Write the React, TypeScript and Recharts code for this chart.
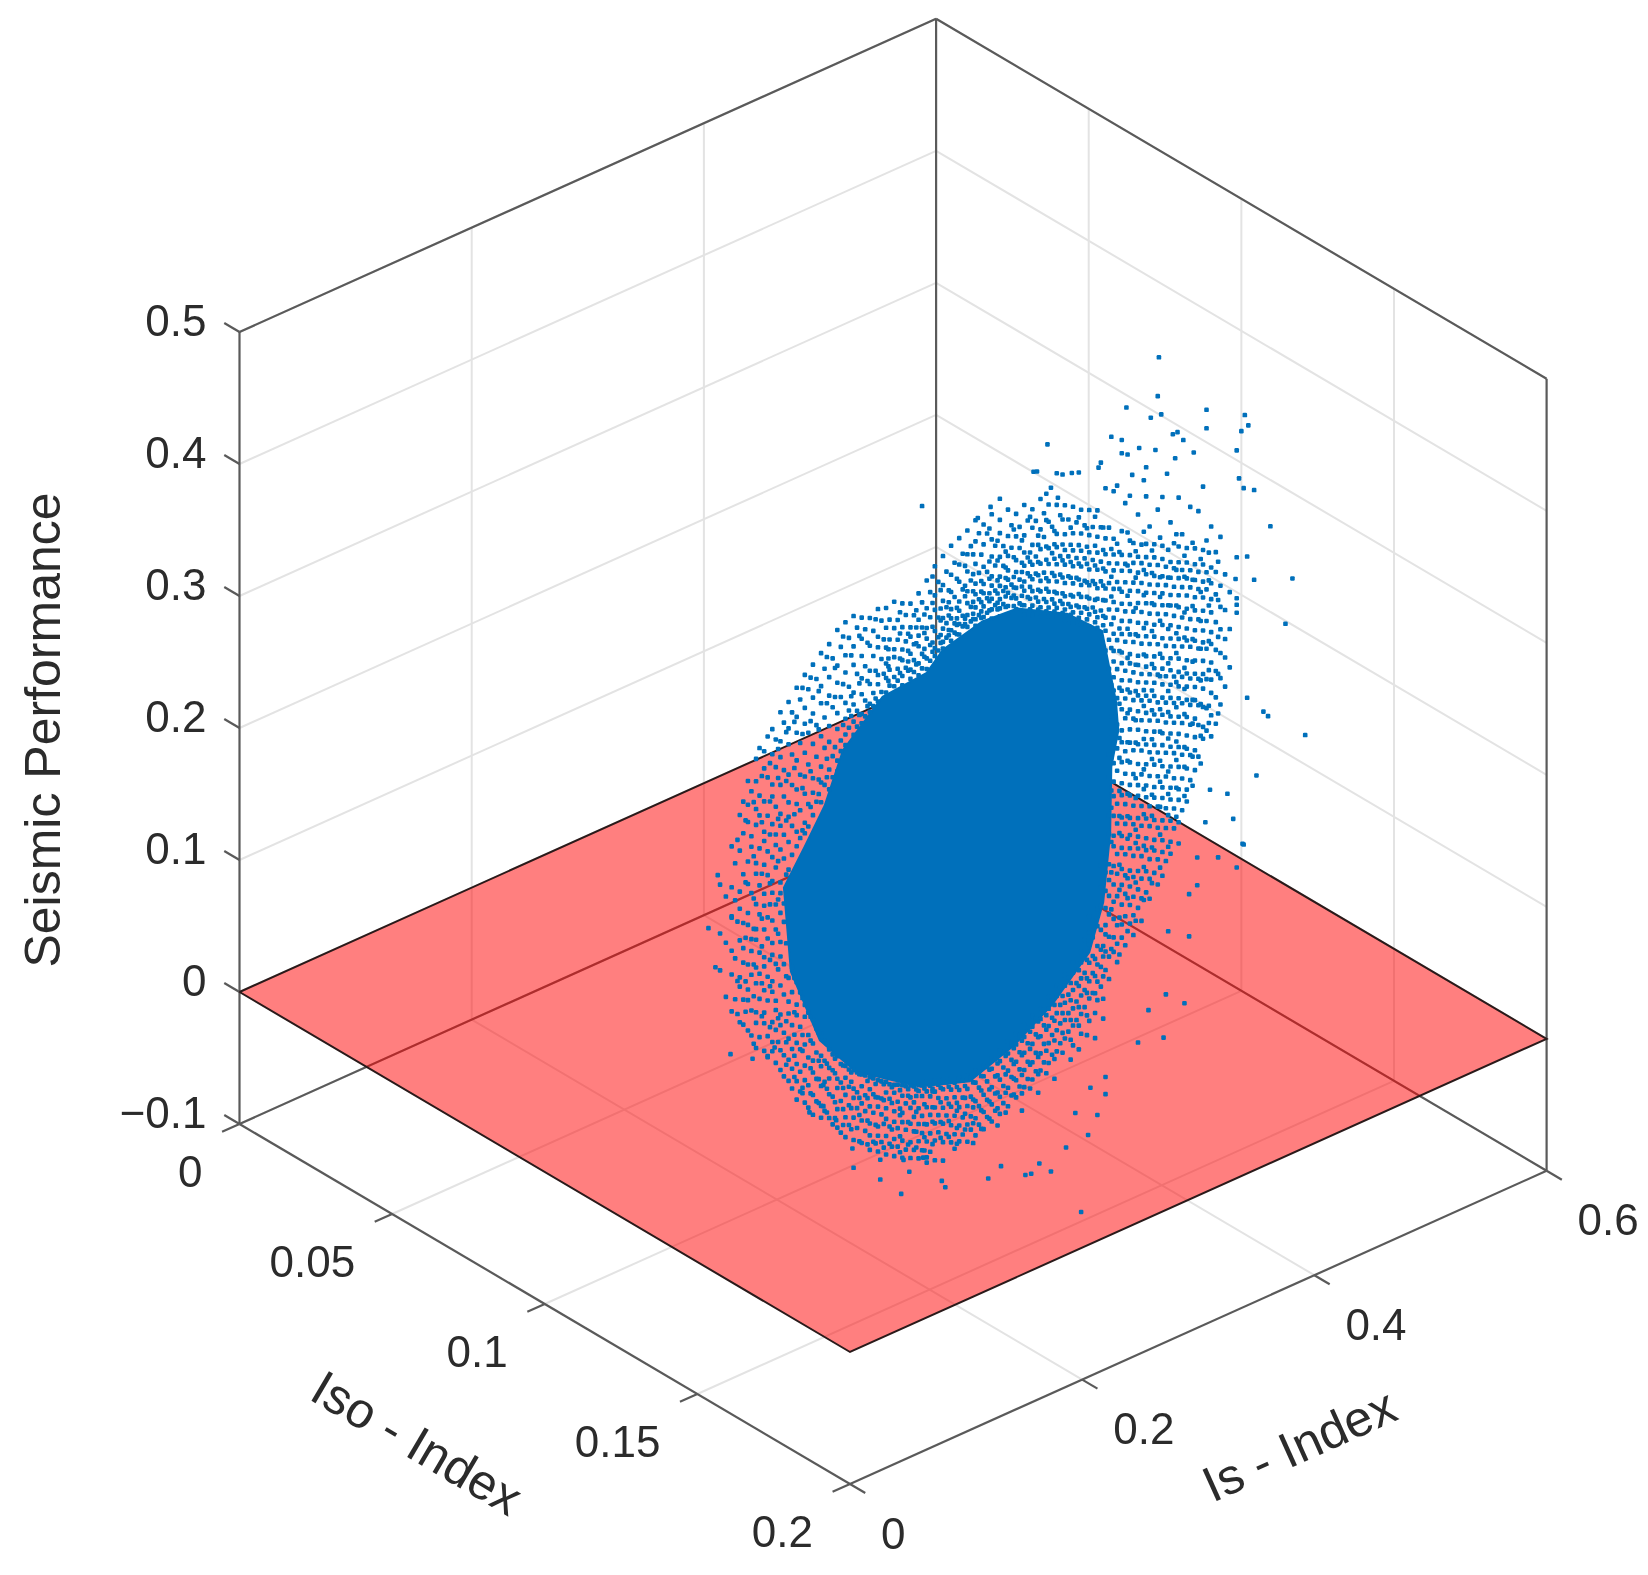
import { Scatter, ScatterChart, XAxis, YAxis } from "recharts";

const isTicks = [0, 0.2, 0.4, 0.6];
const isoTicks = [0, 0.05, 0.1, 0.15, 0.2];
const spTicks = [-0.1, 0, 0.1, 0.2, 0.3, 0.4, 0.5];
const isGrid = [0.2, 0.4];
const isoGrid = [0.05, 0.1, 0.15];

// the picture is a flat view, so every dot is read as (Is, performance) at Iso = 0.1
const cloudIso = 0.1;

// outline of the part where the dots merge into a solid patch
const coreIs = [0.257, 0.291, 0.329, 0.343, 0.377, 0.407, 0.45, 0.48, 0.492, 0.494, 0.488, 0.487, 0.481, 0.469, 0.437, 0.404, 0.366, 0.323, 0.268, 0.237, 0.212, 0.206, 0.224, 0.241, 0.257];
const coreSp = [0.218, 0.245, 0.248, 0.26, 0.268, 0.266, 0.245, 0.22, 0.162, 0.139, 0.114, 0.064, 0.014, -0.019, -0.046, -0.064, -0.076, -0.063, -0.03, 0.006, 0.068, 0.134, 0.158, 0.182, 0.218];

const strayPoints: [number, number][] = [
  [.529,.408],[.528,.379],[.501,.381],[.57,.352],[.603,.335],[.606,.326],[.6,.324],[.57,.338],[.522,.365],[.531,.364],
  [.545,.345],[.541,.345],[.55,.337],[.488,.364],[.497,.358],[.512,.346],[.497,.348],[.502,.345],[.526,.339],[.543,.326],
  [.559,.324],[.596,.311],[.479,.348],[.477,.345],[.433,.38],[.518,.329],[.536,.317],[.506,.328],[.516,.32],[.598,.289],
  [.602,.28],[.611,.275],[.567,.295],[.493,.325],[.421,.364],[.424,.363],[.441,.355],[.446,.352],[.454,.35],[.46,.348],
  [.436,.346],[.432,.343],[.442,.336],[.325,.376],[.392,.355],[.384,.352],[.373,.348],[.625,.242],[.644,.195],[.611,.207],
  [.595,.214],[.638,.163],[.655,.072],[.623,.099],[.619,.104],[.605,.12],[.605,.227],[.596,.23],[.596,.194],[.596,.199],
  [.596,.188],[.613,.058],[.601,.011],
  [.149,.166],[.141,.129],[.147,.097],[.161,.13],[.16,.026],[.179,.015],[.192,.012],[.198,.016],[.222,-.028],[.24,-.029],
  [.228,-.045],[.24,-.045],[.251,-.06],[.265,-.087],[.266,-.102],[.289,-.105],[.289,-.12],[.307,-.138],[.309,-.113],[.314,-.124],
  [.326,-.118],[.329,-.123],[.342,-.142],[.345,-.148],[.382,-.156],[.393,-.151],[.414,-.166],[.419,-.167],[.426,-.162],[.436,-.172],
  [.462,-.213],[.449,-.159],[.468,-.157],[.476,-.145],[.457,-.136],[.483,-.132],[.483,-.119],[.47,-.122],[.533,-.109],[.511,-.104],
  [.551,-.09],[.52,-.083],[.535,-.077],[.555,-.041],[.537,-.03],[.562,-.005],[.555,-.009],[.562,.016],[.58,.009],[.596,-.005],
  [.602,.01],[.593,.033],[.588,.054],[.573,.063],[.569,.04],
];

const leftColumns: [number, number[]][] = [
  [.151,[.158,.121,.093]],
  [.156,[.147,.112,.071]],
  [.161,[.183,.152,.129,.104,.086,.058]],
  [.164,[.169,.141,.097,.066]],
  [.168,[.204,.177,.146,.133,.109,.081,.074,.047]],
  [.171,[.213,.189,.158,.121,.102,.091,.063,.044]],
  [.175,[.227,.209,.196,.166,.149,.127,.118,.088,.069,.061,.038]],
  [.178,[.218,.184,.176,.141,.106,.097,.079,.052,.033]],
  [.182,[.241,.224,.203,.191,.162,.154,.131,.112,.104,.083,.071,.049,.041,.022]],
  [.185,[.248,.212,.197,.172,.144,.122,.093,.077,.058,.029]],
  [.189,[.244,.231,.206,.183,.176,.158,.136,.127,.109,.088,.081,.063,.046,.038,.017]],
  [.192,[.254,.223,.194,.167,.149,.117,.101,.072,.054,.027,.011]],
  [.196,[.258,.239,.216,.207,.186,.161,.143,.134,.113,.096,.087,.067,.059,.036,.021,.014]],
  [.199,[.249,.228,.198,.177,.169,.152,.124,.105,.079,.051,.044,.029,.004]],
  [.203,[.268,.246,.234,.213,.191,.182,.164,.139,.131,.116,.094,.083,.061,.039,.031,.012,-.003]],
  [.206,[.259,.223,.203,.174,.156,.122,.108,.076,.053,.024,.007,-.009]],
  [.210,[.273,.253,.241,.218,.197,.186,.167,.146,.064,.046,.037,.018,.002,-.014]],
  [.213,[.264,.232,.209,.178,.156,.071,.052,.027,.009,-.006,-.021]],
  [.217,[.281,.259,.247,.226,.204,.193,.172,.161,.058,.041,.033,.012,-.004,-.017,-.031]],
  [.220,[.271,.238,.214,.187,.166,.049,.023,.006,-.011,-.026]],
  [.224,[.288,.263,.251,.229,.211,.198,.176,.168,.038,.029,.008,-.008,-.019,-.036]],
  [.227,[.276,.243,.219,.189,.172,.031,.014,-.003,-.024,-.041]],
  [.231,[.293,.268,.256,.233,.207,.196,.179,.024,.006,-.007,-.016,-.033,-.048]],
  [.234,[.281,.246,.222,.188,.016,-.002,-.022,-.039]],
  [.238,[.299,.274,.261,.236,.213,.201,.186,.011,-.006,-.014,-.029,-.044,-.053]],
  [.241,[.286,.249,.226,.198,.004,-.011,-.027,-.049]],
  [.245,[.303,.278,.264,.241,.229,.208,.193,-.004,-.018,-.026,-.038,-.056]],
  [.248,[.291,.254,.217,.201,-.009,-.021,-.041,-.062]],
  [.252,[.311,.284,.271,.248,.236,.212,.204,-.012,-.029,-.036,-.052,-.066]],
  [.255,[.297,.259,.226,.218,-.019,-.033,-.047,-.071]],
  [.259,[.314,.289,.276,.253,.241,.229,.221,-.022,-.031,-.044,-.061,-.076]],
  [.262,[.301,.264,.246,.233,-.026,-.039,-.053,-.068]],
  [.266,[.316,.293,.279,.258,.249,.236,.226,-.028,-.042,-.049,-.064,-.081]],
  [.269,[.306,.271,.243,.231,-.031,-.046,-.058,-.073]],
  [.273,[.312,.296,.283,.266,.254,.239,.232,-.034,-.043,-.056,-.069,-.086]],
  [.276,[.302,.274,.248,.236,-.036,-.051,-.063,-.078]],
  [.280,[.309,.288,.269,.259,.244,.238,-.039,-.048,-.061,-.074,-.083,-.094]],
  [.283,[.298,.279,.251,.241,-.041,-.053,-.067,-.089]],
  [.287,[.313,.292,.284,.263,.256,.243,-.044,-.057,-.064,-.079,-.086,-.098]],
  [.290,[.303,.274,.249,-.046,-.059,-.071,-.092]],
];

const middleColumns: [number, number[]][] = [
  [.294,[.311,.296,.281,.269,.258,.247,-.048,-.056,-.068,-.076,-.089,-.103]],
  [.297,[.301,.286,.263,.251,-.051,-.062,-.083,-.096]],
  [.301,[.313,.293,.277,.271,.256,.249,-.053,-.059,-.073,-.081,-.094,-.107]],
  [.304,[.298,.283,.261,.252,-.054,-.067,-.087,-.101]],
  [.308,[.309,.291,.274,.266,.254,.247,-.056,-.064,-.077,-.084,-.098,-.111]],
  [.311,[.299,.279,.259,-.058,-.071,-.091,-.106]],
  [.315,[.306,.288,.281,.268,.256,.249,-.059,-.068,-.076,-.088,-.102,-.114]],
  [.318,[.296,.274,.262,.253,-.061,-.073,-.084,-.095,-.109]],
  [.322,[.311,.291,.279,.271,.258,.249,-.06,-.066,-.079,-.091,-.104,-.117]],
  [.325,[.303,.284,.264,.253,-.063,-.071,-.086,-.099,-.112]],
  [.329,[.318,.297,.282,.274,.259,.251,-.062,-.069,-.081,-.094,-.107,-.119]],
  [.332,[.308,.289,.268,.256,-.066,-.074,-.088,-.102,-.116]],
  [.336,[.326,.304,.293,.277,.264,.258,-.064,-.072,-.084,-.096,-.109,-.124]],
  [.339,[.313,.286,.271,.261,-.068,-.078,-.091,-.104]],
  [.343,[.331,.309,.297,.284,.276,.266,.261,-.066,-.073,-.087,-.099,-.113,-.127]],
  [.346,[.318,.291,.279,.268,-.069,-.081,-.094,-.108]],
  [.350,[.336,.314,.301,.288,.281,.272,.264,-.068,-.076,-.089,-.103,-.116]],
  [.353,[.322,.296,.276,.269,-.072,-.083,-.097,-.111,-.122]],
  [.357,[.339,.319,.306,.291,.284,.274,.266,-.07,-.079,-.092,-.106,-.118]],
  [.360,[.326,.299,.279,.271,-.073,-.086,-.101,-.114]],
  [.364,[.342,.324,.311,.296,.287,.278,.269,-.071,-.081,-.094,-.108,-.121]],
  [.367,[.329,.303,.283,.272,-.074,-.088,-.103,-.113]],
  [.371,[.347,.331,.314,.299,.291,.281,.272,.267,-.07,-.079,-.093,-.106,-.119]],
  [.374,[.336,.306,.286,.274,-.072,-.084,-.098,-.112]],
  [.378,[.341,.326,.309,.296,.289,.279,.271,-.069,-.077,-.091,-.104,-.117]],
  [.381,[.333,.304,.284,.273,-.071,-.082,-.096,-.109]],
  [.385,[.346,.327,.314,.299,.292,.282,.274,.267,-.066,-.074,-.088,-.101,-.114]],
  [.388,[.321,.306,.287,.276,-.068,-.081,-.094,-.107]],
  [.392,[.339,.329,.311,.296,.289,.279,.272,.266,-.063,-.071,-.085,-.098,-.111]],
  [.395,[.318,.303,.284,.274,-.066,-.077,-.091,-.104]],
  [.399,[.344,.324,.309,.298,.291,.281,.271,.264,-.059,-.068,-.081,-.094,-.108]],
  [.402,[.331,.314,.286,.276,-.062,-.074,-.087,-.101]],
  [.406,[.338,.321,.303,.294,.282,.274,.266,-.056,-.064,-.077,-.091,-.104]],
  [.409,[.327,.311,.287,.269,-.058,-.071,-.084,-.097]],
  [.413,[.342,.319,.306,.296,.284,.277,.266,.259,-.052,-.061,-.073,-.086,-.099]],
  [.416,[.329,.301,.289,.271,-.055,-.067,-.081,-.094]],
  [.420,[.336,.322,.309,.294,.283,.274,.263,.256,-.048,-.056,-.069,-.083,-.096]],
  [.423,[.326,.299,.286,.268,-.051,-.063,-.077,-.091]],
  [.427,[.341,.318,.303,.292,.279,.271,.259,.252,-.045,-.053,-.066,-.079,-.092]],
  [.430,[.329,.311,.284,.264,-.047,-.059,-.073,-.087]],
  [.434,[.334,.321,.301,.289,.276,.268,.256,.249,-.039,-.048,-.061,-.074,-.089]],
  [.437,[.316,.296,.281,.261,-.043,-.056,-.069,-.084]],
  [.441,[.331,.309,.299,.286,.273,.264,.253,.246,-.033,-.041,-.054,-.067,-.083]],
  [.444,[.322,.291,.277,.257,-.036,-.049,-.063,-.078]],
  [.448,[.328,.306,.294,.283,.269,.259,.249,.241,-.028,-.036,-.049,-.062,-.076]],
  [.451,[.316,.288,.273,.252,-.031,-.044,-.058,-.072]],
];

const rightColumns: [number, number[]][] = [
  [.455,[.324,.304,.291,.279,.266,.256,.244,.236,-.021,-.029,-.042,-.056,-.069,-.084]],
  [.458,[.311,.284,.269,.248,-.026,-.038,-.052,-.066]],
  [.462,[.319,.301,.288,.276,.262,.253,.241,.232,-.016,-.024,-.036,-.049,-.063,-.078]],
  [.465,[.306,.281,.264,.244,-.008,-.019,-.033,-.046,-.059]],
  [.469,[.316,.297,.284,.271,.259,.249,.237,.228,.008,-.004,-.013,-.027,-.041,-.054,-.071]],
  [.472,[.302,.277,.261,.241,.004,-.009,-.023,-.036,-.051]],
  [.476,[.313,.293,.281,.268,.254,.246,.232,.224,.011,-.002,-.017,-.031,-.044,-.058]],
  [.479,[.299,.273,.258,.236,.043,.026,.012,-.006,-.021,-.034,-.049]],
  [.483,[.327,.289,.277,.264,.251,.242,.229,.219,.204,.196,.058,.047,.036,.022,.009,-.004,-.011,-.024,-.038]],
  [.486,[.296,.269,.254,.234,.211,.189,.124,.107,.078,.064,.041,.029,.017,.003,-.014,-.029,-.046]],
  [.490,[.322,.286,.274,.262,.248,.238,.226,.214,.201,.193,.181,.171,.131,.116,.102,.091,.076,.061,.053,.038,.024,.011,-.002,-.016,-.027]],
  [.493,[.281,.266,.252,.231,.208,.186,.164,.144,.126,.109,.084,.069,.046,.031,.014,-.008,-.022,-.036]],
  [.497,[.289,.271,.259,.243,.234,.221,.211,.197,.189,.176,.168,.154,.138,.129,.114,.098,.089,.072,.058,.049,.033,.021,.006,-.009,-.019]],
  [.500,[.309,.263,.249,.227,.204,.182,.161,.146,.121,.104,.081,.066,.043,.027,.013,-.004,-.026]],
  [.504,[.313,.279,.268,.256,.241,.231,.218,.208,.193,.186,.173,.164,.151,.136,.126,.111,.094,.086,.069,.056,.046,.029,.017,.003,-.011]],
  [.507,[.276,.261,.246,.224,.201,.178,.157,.143,.119,.101,.077,.063,.039,.023,.008,-.006,-.021]],
  [.511,[.296,.264,.252,.238,.229,.214,.204,.189,.182,.169,.159,.147,.133,.122,.107,.091,.083,.066,.052,.043,.026,.012,-.002]],
  [.514,[.272,.258,.243,.221,.197,.174,.154,.139,.116,.098,.074,.059,.036,.019,.004,-.013]],
  [.518,[.307,.271,.261,.248,.234,.226,.211,.201,.186,.178,.166,.156,.143,.129,.119,.104,.088,.079,.063,.048,.039,.023,.007]],
  [.521,[.283,.254,.239,.217,.194,.171,.151,.136,.112,.094,.071,.056,.031,.016,.001]],
  [.525,[.268,.258,.244,.231,.222,.207,.198,.183,.174,.163,.153,.139,.126,.116,.101,.084,.076,.059,.044,.036,.019]],
  [.528,[.293,.251,.236,.214,.191,.168,.147,.133,.109,.091,.068,.052,.028,.009]],
  [.532,[.301,.264,.254,.241,.228,.219,.204,.194,.179,.171,.159,.149,.136,.122,.113,.097,.081,.073,.056,.041,.032,.014]],
  [.535,[.247,.233,.211,.187,.164,.144,.129,.106,.088,.064,.049,.024]],
  [.539,[.279,.249,.237,.224,.216,.201,.191,.176,.167,.156,.146,.132,.119,.109,.094,.078,.069,.053,.037,.028]],
  [.542,[.262,.243,.229,.207,.184,.161,.141,.126,.103,.084,.061,.046]],
  [.546,[.295,.258,.246,.234,.221,.212,.197,.188,.173,.163,.152,.143,.129,.116,.106,.091,.074,.066,.049,.033]],
  [.549,[.266,.239,.226,.203,.181,.158,.138,.123,.099,.081,.057]],
  [.553,[.254,.243,.231,.218,.208,.193,.184,.169,.159,.149,.139,.126,.112,.102,.087,.071,.062]],
  [.556,[.284,.236,.223,.199,.178,.154,.134,.119,.096,.077]],
  [.560,[.251,.239,.227,.214,.204,.189,.181,.166,.156,.146,.136,.122,.108,.098,.083]],
  [.563,[.278,.232,.219,.196,.174,.151,.131,.116,.092]],
  [.567,[.247,.236,.223,.211,.201,.186,.177,.163,.153,.142,.128,.113,.104]],
  [.570,[.253,.229,.216,.192,.171,.148,.126,.109]],
  [.574,[.262,.231,.219,.207,.197,.182,.173,.159,.146,.136,.119,.103]],
  [.578,[.241,.226,.209,.188,.167,.151,.131,.111]],
  [.582,[.251,.214,.198,.181,.163,.144,.124]],
  [.586,[.221,.194,.172,.158,.136]],
  [.590,[.206,.178,.149]],
];

// second reading of the crowded parts, between the columns above
const capColumns: [number, number[]][] = [
  [.296,[.279,.266,.255,.272]],
  [.306,[.287,.268,.257,.303]],
  [.313,[.284,.271,.263,.256]],
  [.320,[.286,.274,.258,.299]],
  [.327,[.293,.279,.267,.261]],
  [.334,[.299,.281,.269,.262,.319]],
  [.341,[.292,.283,.272,.266,.306]],
  [.348,[.303,.294,.284,.273,.269]],
  [.355,[.309,.287,.279,.274,.267]],
  [.362,[.316,.301,.293,.276,.272]],
  [.369,[.307,.294,.286,.277,.273,.322]],
  [.376,[.319,.299,.291,.283,.276,.271]],
  [.383,[.311,.298,.287,.281,.274,.336]],
  [.390,[.324,.309,.294,.284,.277,.272]],
  [.397,[.313,.301,.293,.286,.279,.271]],
  [.404,[.327,.306,.291,.283,.277,.269]],
  [.411,[.316,.299,.292,.281,.274,.267]],
  [.418,[.331,.304,.297,.286,.278,.269,.261]],
  [.425,[.314,.307,.294,.284,.273,.264,.258]],
  [.432,[.323,.303,.293,.279,.271,.261,.254]],
  [.439,[.312,.302,.291,.278,.266,.257,.251]],
  [.446,[.318,.299,.287,.274,.262,.254,.247]],
  [.453,[.309,.296,.283,.271,.258,.249,.243]],
  [.460,[.314,.293,.279,.267,.256,.246,.238]],
  [.467,[.303,.289,.276,.262,.251,.242,.234]],
  [.474,[.309,.287,.272,.258,.246,.237,.229]],
  [.481,[.298,.281,.267,.254,.243,.231,.224,.208]],
];

const sideColumns: [number, number[]][] = [
  [.488,[.279,.258,.243,.222,.204,.176,.152,.139,.121,.096,.083,.057,.034,.006,-.024]],
  [.495,[.274,.246,.216,.199,.171,.159,.133,.118,.093,.074,.061,.037,.018,-.003,-.031]],
  [.502,[.286,.261,.238,.213,.191,.167,.149,.127,.113,.088,.071,.054,.024,.009,-.016]],
  [.509,[.269,.249,.226,.206,.183,.163,.141,.124,.097,.082,.058,.048,.018,-.011]],
  [.516,[.281,.252,.233,.208,.188,.161,.149,.124,.101,.086,.067,.043,.027,.002]],
  [.523,[.264,.247,.224,.203,.178,.158,.143,.121,.106,.079,.063,.039,.012]],
  [.530,[.271,.241,.226,.208,.183,.166,.141,.124,.102,.086,.067,.046,.021]],
  [.537,[.259,.238,.217,.199,.173,.152,.136,.116,.091,.074,.058,.034]],
  [.544,[.268,.241,.214,.193,.178,.156,.137,.111,.097,.076,.054]],
  [.551,[.249,.233,.206,.187,.164,.148,.129,.104,.089,.067]],
  [.558,[.256,.228,.208,.183,.166,.137,.119,.094,.072]],
  [.565,[.241,.216,.194,.173,.149,.131,.107,.086]],
  [.572,[.243,.222,.203,.176,.154,.127,.114]],
  [.580,[.233,.204,.176,.148,.118]],
];

const rimColumns: [number, number[]][] = [
  [.166,[.186,.124,.079,.054]],
  [.173,[.198,.151,.109,.076,.053]],
  [.180,[.209,.168,.136,.113,.086,.062,.026]],
  [.187,[.226,.191,.152,.118,.097,.069,.044]],
  [.194,[.233,.204,.179,.142,.126,.084,.064,.033]],
  [.201,[.241,.219,.188,.156,.127,.101,.074,.037,.019]],
  [.208,[.251,.214,.184,.143,.091,.066,.032,.016,-.001]],
  [.215,[.256,.221,.186,.062,.036,.019,.003,-.013]],
  [.222,[.279,.244,.203,.171,.044,.016,.004,-.024]],
  [.229,[.284,.251,.213,.186,.027,.009,-.012,-.031]],
  [.236,[.271,.242,.204,.193,.012,-.009,-.023,-.041]],
  [.243,[.294,.259,.217,.203,.001,-.014,-.033,-.051]],
  [.250,[.283,.261,.223,-.013,-.024,-.046,-.058]],
  [.257,[.304,.268,.237,-.021,-.038,-.054,-.066]],
  [.264,[.287,.256,.241,-.029,-.036,-.056,-.072]],
  [.271,[.299,.263,.239,-.033,-.051,-.064,-.084]],
  [.278,[.291,.262,.243,-.041,-.054,-.071,-.089]],
  [.285,[.306,.267,.246,-.046,-.056,-.077,-.091]],
  [.292,[.288,.262,-.049,-.061,-.079,-.097]],
  [.299,[-.054,-.066,-.086,-.099]],
  [.306,[-.059,-.073,-.078,-.094,-.106]],
  [.313,[-.061,-.066,-.086,-.103]],
  [.320,[-.064,-.069,-.081,-.096,-.108]],
  [.327,[-.066,-.078,-.093,-.103,-.113]],
  [.334,[-.069,-.071,-.083,-.094,-.111]],
  [.341,[-.071,-.082,-.097,-.109]],
  [.348,[-.073,-.086,-.099,-.111]],
  [.355,[-.076,-.088,-.094,-.107,-.119]],
  [.362,[-.078,-.087,-.099,-.111]],
  [.369,[-.078,-.091,-.097,-.109,-.124]],
  [.376,[-.076,-.087,-.102,-.116]],
  [.383,[-.074,-.089,-.098,-.111]],
  [.390,[-.072,-.081,-.094,-.106,-.119]],
  [.397,[-.069,-.083,-.097,-.112]],
  [.404,[-.066,-.078,-.089,-.101]],
  [.411,[-.063,-.074,-.089,-.103,-.116]],
  [.418,[-.059,-.072,-.084,-.102]],
  [.425,[-.054,-.066,-.081,-.094,-.108]],
  [.432,[-.052,-.063,-.079,-.096]],
  [.439,[-.047,-.059,-.074,-.088,-.103]],
  [.446,[-.043,-.056,-.071,-.086]],
  [.453,[-.036,-.049,-.064,-.079,-.094]],
  [.460,[-.029,-.041,-.057,-.071,-.089]],
  [.467,[-.024,-.038,-.049,-.066,-.081]],
  [.474,[-.026,-.039,-.052,-.067,-.086]],
  [.481,[-.019,-.027,-.042,-.059,-.074]],
];

const W = 1648;
const H = 1575;
const BLUE = "#0070BB";
const GRID = "#E3E3E3";
const BOX = "#5A5A5A";
const TEXT = "#2B2B2B";
const FONT = "'Liberation Sans', Arial, sans-serif";

// fixed MATLAB-style view of (Is, Iso, performance) onto the flat chart plane
const view = (is: number, iso: number, sp: number) => ({
  x: 239.5 + 1161 * is + 3052.5 * iso,
  y: 1124 - 522 * is + 1800 * iso - 1320 * (sp + 0.1),
});

const seg = (a: number[], b: number[]) => [view(a[0], a[1], a[2]), view(b[0], b[1], b[2])];

const gridSegs = [
  ...spTicks.map((s) => seg([0, 0, s], [0.6, 0, s])),
  ...spTicks.map((s) => seg([0.6, 0, s], [0.6, 0.2, s])),
  ...isGrid.map((v) => seg([v, 0, -0.1], [v, 0, 0.5])),
  ...isGrid.map((v) => seg([v, 0, -0.1], [v, 0.2, -0.1])),
  ...isoGrid.map((v) => seg([0.6, v, -0.1], [0.6, v, 0.5])),
  ...isoGrid.map((v) => seg([0, v, -0.1], [0.6, v, -0.1])),
];

const boxSegs = [
  seg([0, 0, -0.1], [0, 0, 0.5]),
  seg([0, 0, 0.5], [0.6, 0, 0.5]),
  seg([0.6, 0, 0.5], [0.6, 0, -0.1]),
  seg([0.6, 0, 0.5], [0.6, 0.2, 0.5]),
  seg([0.6, 0.2, 0.5], [0.6, 0.2, -0.1]),
  seg([0, 0, -0.1], [0.6, 0, -0.1]),
  seg([0.6, 0, -0.1], [0.6, 0.2, -0.1]),
  seg([0.6, 0.2, -0.1], [0, 0.2, -0.1]),
  seg([0, 0.2, -0.1], [0, 0, -0.1]),
  ...spTicks.map((s) => seg([0, 0, s], [0, -0.005, s])),
  ...isTicks.map((v) => seg([v, 0.2, -0.1], [v, 0.205, -0.1])),
  ...isoTicks.map((v) => seg([0, v, -0.1], [-0.015, v, -0.1])),
];

const planeOutline = [
  view(0, 0, 0),
  view(0.6, 0, 0),
  view(0.6, 0.2, 0),
  view(0, 0.2, 0),
  view(0, 0, 0),
];

const corePoints = coreIs.map((v, i) => view(v, cloudIso, coreSp[i]));

const cloudPoints = [
  ...[...leftColumns, ...middleColumns, ...rightColumns, ...capColumns, ...sideColumns, ...rimColumns].flatMap(([is, sps]) =>
    sps.map((sp) => view(is, cloudIso, sp))
  ),
  ...strayPoints.map(([is, sp]) => view(is, cloudIso, sp)),
];

const fmt = (v: number) => (v < 0 ? "\u2212" + Math.abs(v) : String(v));

const spLabels = spTicks.map((s) => ({ ...view(0, 0, s), label: fmt(s) }));
const isLabels = isTicks.map((v) => ({ ...view(v, 0.2, -0.1), label: fmt(v) }));
const isoLabels = isoTicks.map((v) => ({ ...view(0, v, -0.1), label: fmt(v) }));

const titles = [
  { ...view(0, 0, 0.2), label: "Seismic Performance", dx: -197, dy: 2, angle: -90 },
  { ...view(0, 0.1, -0.1), label: "Iso - Index", dx: -128, dy: 139, angle: 30.5 },
  { ...view(0.3, 0.2, -0.1), label: "Is - Index", dx: 101, dy: 118, angle: -24.2 },
];

const noDot = () => null;

const tickText = (anchor: string, dx: number, dy: number) => (p: any) =>
  (
    <text
      x={p.cx + dx}
      y={p.cy + dy}
      textAnchor={anchor}
      dominantBaseline="central"
      fontFamily={FONT}
      fontSize={44}
      fill={TEXT}
    >
      {p.payload.label}
    </text>
  );

const titleText = (p: any) => {
  const { dx, dy, angle, label } = p.payload;
  const x = p.cx + dx;
  const y = p.cy + dy;
  return (
    <text
      x={x}
      y={y}
      transform={`rotate(${angle} ${x} ${y})`}
      textAnchor="middle"
      dominantBaseline="central"
      fontFamily={FONT}
      fontSize={50}
      fill={TEXT}
    >
      {label}
    </text>
  );
};

export default function App() {
  return (
    <div style={{ position: "absolute", left: 0, top: 0, width: W, height: H, background: "#fff", filter: "blur(0.6px)" }}>
      <ScatterChart width={W} height={H} margin={{ top: 0, right: 0, bottom: 0, left: 0 }}>
        <XAxis type="number" dataKey="x" domain={[0, W]} hide />
        <YAxis type="number" dataKey="y" domain={[0, H]} reversed hide />
        {gridSegs.map((s, i) => (
          <Scatter key={"g" + i} data={s} shape={noDot} isAnimationActive={false} line={{ stroke: GRID, strokeWidth: 2 }} />
        ))}
        {boxSegs.map((s, i) => (
          <Scatter key={"b" + i} data={s} shape={noDot} isAnimationActive={false} line={{ stroke: BOX, strokeWidth: 2.2 }} />
        ))}
        <Scatter
          data={planeOutline}
          shape={noDot}
          isAnimationActive={false}
          line={{ stroke: "#2a1a1a", strokeWidth: 2, fill: "#FF0000", fillOpacity: 0.5 }}
        />
        <Scatter
          data={corePoints}
          shape={noDot}
          isAnimationActive={false}
          line={{ stroke: BLUE, strokeWidth: 2, fill: BLUE, fillOpacity: 1 }}
        />
        <Scatter
          data={cloudPoints}
          isAnimationActive={false}
          shape={(p: any) => <rect x={p.cx - 2.3} y={p.cy - 2.3} width={4.6} height={4.6} rx={1.2} fill={BLUE} />}
        />
        <Scatter data={spLabels} isAnimationActive={false} shape={tickText("end", -33, -12)} />
        <Scatter data={isoLabels} isAnimationActive={false} shape={tickText("end", -37, 47)} />
        <Scatter data={isLabels} isAnimationActive={false} shape={tickText("start", 31, 49)} />
        <Scatter data={titles} isAnimationActive={false} shape={titleText} />
      </ScatterChart>
    </div>
  );
}
